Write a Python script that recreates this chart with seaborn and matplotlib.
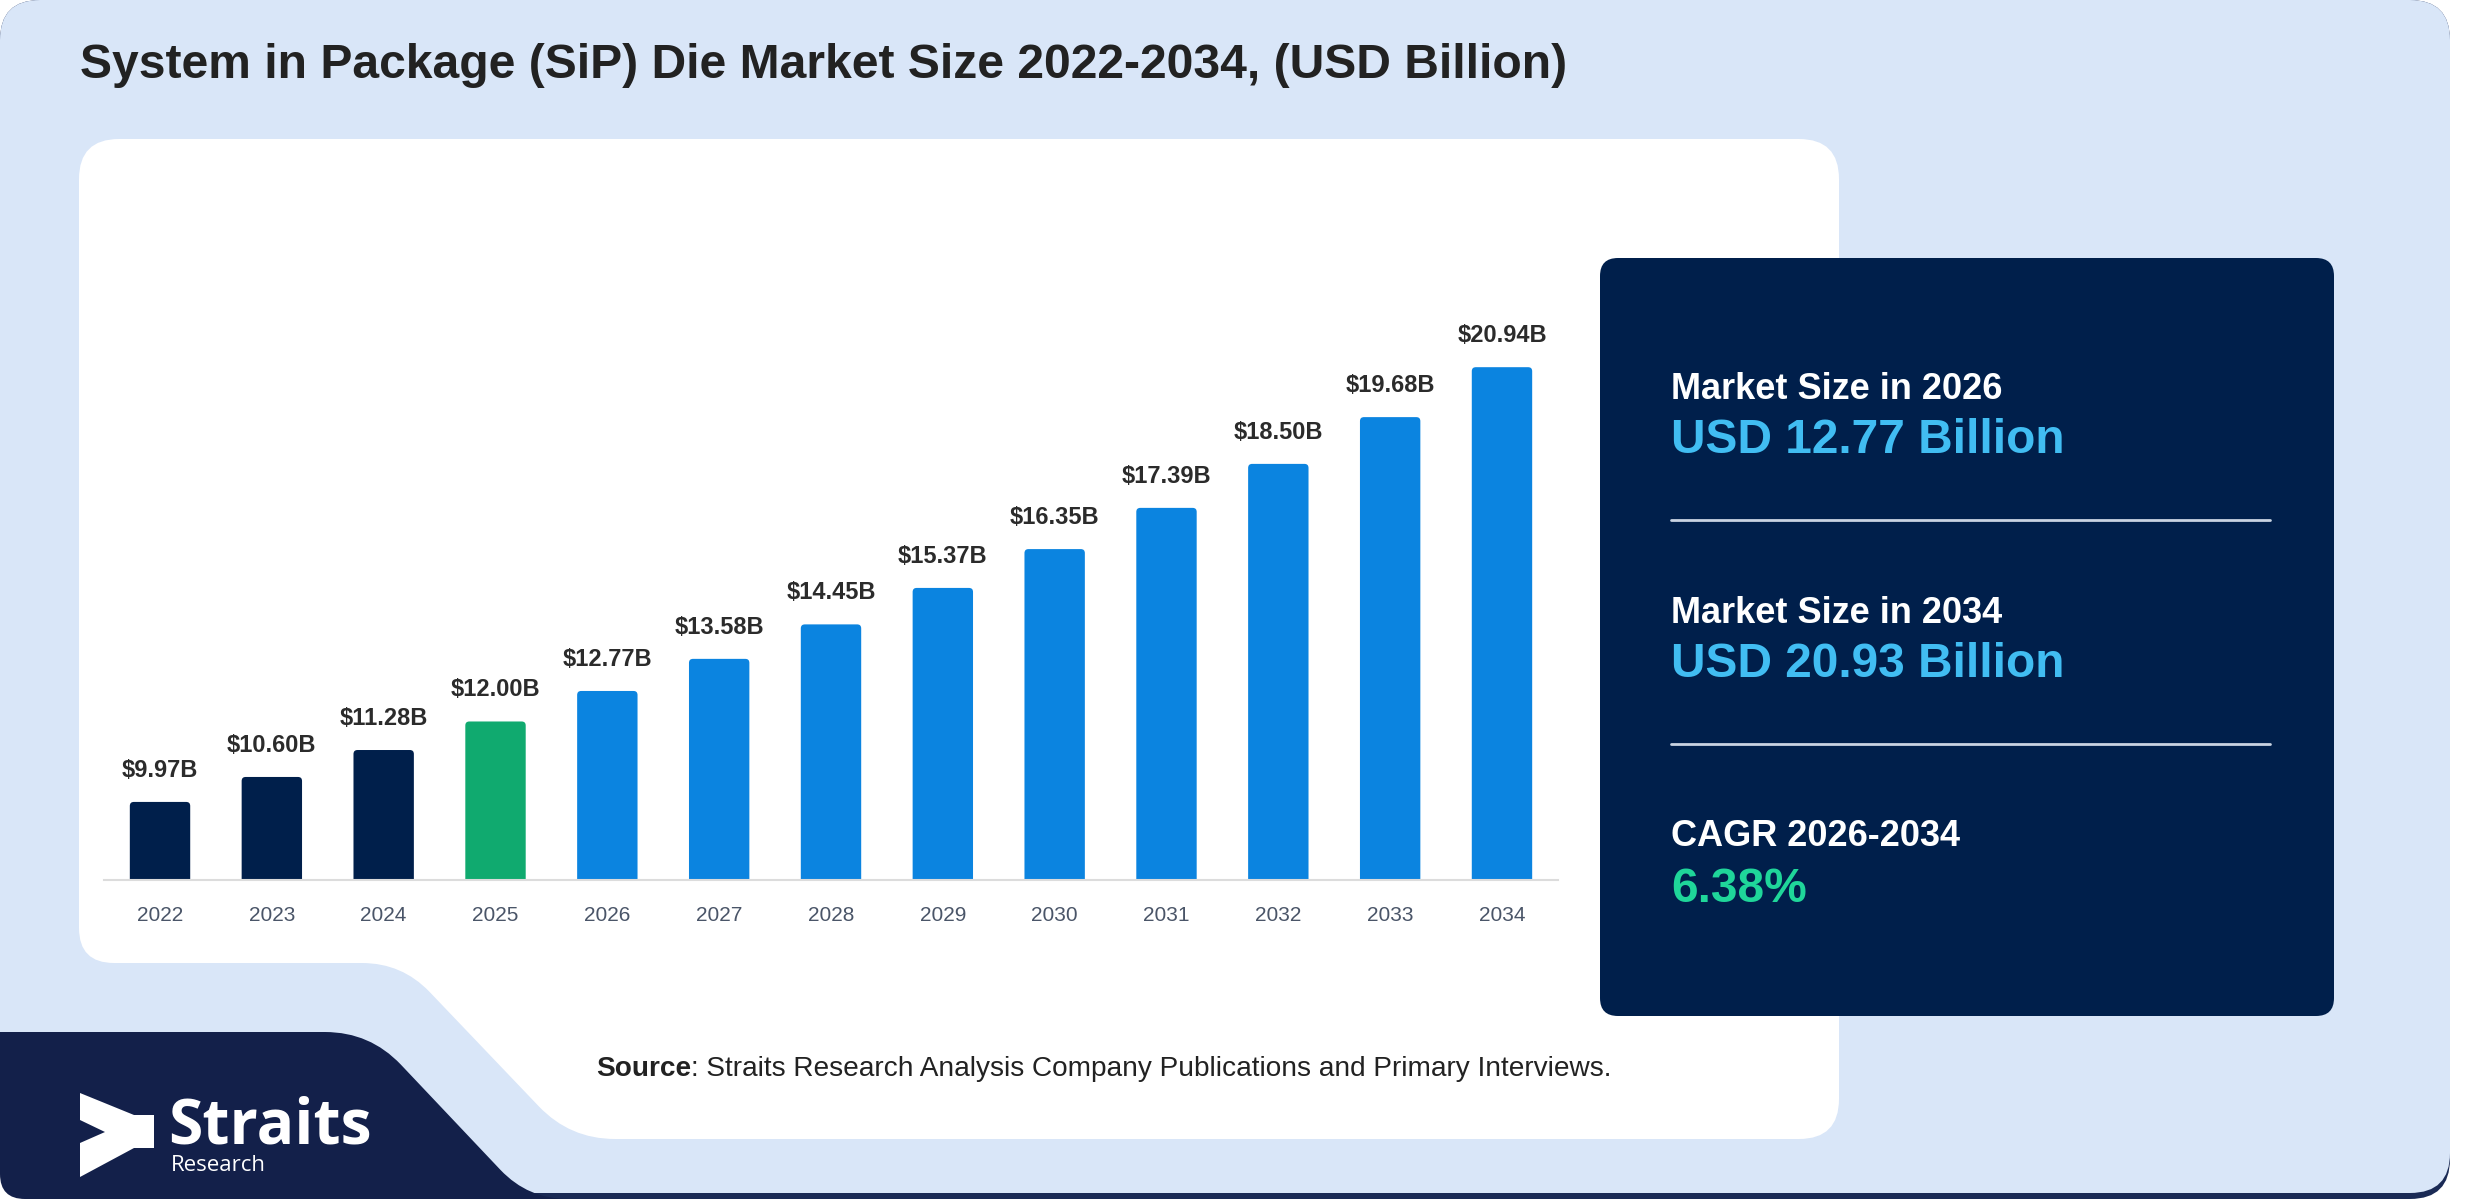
import numpy as np
import pandas as pd
import matplotlib
matplotlib.use("Agg")
import matplotlib.pyplot as plt
from matplotlib.path import Path
from matplotlib.patches import PathPatch, FancyBboxPatch, Polygon
import seaborn as sns

# ---------------- data ----------------
years = ["2022", "2023", "2024", "2025", "2026", "2027", "2028",
         "2029", "2030", "2031", "2032", "2033", "2034"]
values = [9.97, 10.60, 11.28, 12.00, 12.77, 13.58, 14.45,
          15.37, 16.35, 17.39, 18.50, 19.68, 20.94]
segments = ["historical"] * 3 + ["base"] + ["forecast"] * 9

title = "System in Package (SiP) Die Market Size 2022-2034, (USD Billion)"
kpi_labels = ["Market Size in 2026", "Market Size in 2034", "CAGR 2026-2034"]
kpi_values = ["USD 12.77 Billion", "USD 20.93 Billion", "6.38%"]
source_bold = "Source"
source_rest = ": Straits Research Analysis Company Publications and Primary Interviews."

# ---------------- style ----------------
sns.set_style("white")
plt.rcParams["font.family"] = ["Liberation Sans", "DejaVu Sans"]

NAVY = "#001f4b"
GREEN = "#10aa6f"
BLUE = "#0b84e0"
LOGO_NAVY = "#13204a"
CARD_BLUE = "#d9e6f8"
palette = {"historical": NAVY, "base": GREEN, "forecast": BLUE}

W, H = 2480, 1200
fig = plt.figure(figsize=(W / 100, H / 100), dpi=100)
fig.patch.set_facecolor("white")

bg = fig.add_axes([0, 0, 1, 1])
bg.set_xlim(0, W)
bg.set_ylim(H, 0)
bg.axis("off")


def rounded_path(pts, r):
    n = len(pts)
    verts, codes = [], []
    for i in range(n):
        p = np.array(pts[i], float)
        a = np.array(pts[i - 1], float)
        b = np.array(pts[(i + 1) % n], float)
        ri = r[i] if hasattr(r, "__len__") else r
        da = (a - p) / np.linalg.norm(a - p)
        db = (b - p) / np.linalg.norm(b - p)
        p1 = p + da * ri
        p2 = p + db * ri
        verts.append(p1)
        codes.append(Path.MOVETO if i == 0 else Path.LINETO)
        verts += [p, p2]
        codes += [Path.CURVE3, Path.CURVE3]
    verts.append(verts[0])
    codes.append(Path.CLOSEPOLY)
    return Path(verts, codes)


def add_shape(pts, r, color, z):
    bg.add_patch(PathPatch(rounded_path(pts, r), facecolor=color,
                           edgecolor="none", zorder=z))


# navy shadow under outer card
add_shape([(0, 0), (2450, 0), (2450, 1199), (0, 1199)], 40, "#1a2a55", 1)
# outer light-blue card
add_shape([(0, 0), (2450, 0), (2450, 1193), (0, 1193)], 40, CARD_BLUE, 2)
# white chart card with lower-left cut
add_shape([(79, 139), (1839, 139), (1839, 1139), (570, 1139),
           (402, 963), (79, 963)], [40, 40, 40, 45, 40, 35], "white", 3)
# navy logo band
add_shape([(0, 1032), (370, 1032), (528, 1199), (600, 1199), (0, 1199)],
          [0, 45, 40, 0, 25], LOGO_NAVY, 4)
# right KPI panel
add_shape([(1600, 258), (2334, 258), (2334, 1016), (1600, 1016)], 18, NAVY, 5)

# logo arrow
arrow = [(80, 1093), (134, 1115), (154, 1115), (154, 1148), (134, 1148),
         (80, 1177), (80, 1143), (105, 1132), (80, 1120)]
bg.add_patch(Polygon(arrow, closed=True, facecolor="white", edgecolor="none", zorder=6))
bg.text(168, 1143, "Straits", fontsize=45, fontweight="bold", color="white",
        family=["Open Sans", "DejaVu Sans"], va="baseline", ha="left", zorder=6)
bg.text(171, 1171, "Research", fontsize=16, color="white",
        family=["Open Sans", "DejaVu Sans"], va="baseline", ha="left", zorder=6)

# title
bg.text(80, 78, title, fontsize=34.6, fontweight="bold", color="#222222",
        va="baseline", ha="left", zorder=6)

# KPI panel text
label_y = [399, 623, 846]
value_y = [453, 677, 902]
value_colors = ["#41bdf2", "#41bdf2", "#1fd69a"]
for lab, val, ly, vy, vc in zip(kpi_labels, kpi_values, label_y, value_y, value_colors):
    bg.text(1671, ly, lab, fontsize=26, fontweight="bold", color="white",
            va="baseline", ha="left", zorder=6)
    bg.text(1671, vy, val, fontsize=34.5, fontweight="bold", color=vc,
            va="baseline", ha="left", zorder=6)
for sy in [520, 744]:
    bg.plot([1671, 2270], [sy, sy], color="#c9d3e2", lw=2, zorder=6)

# source line
renderer = fig.canvas.get_renderer()
t1 = bg.text(596, 1076, source_bold, fontsize=20.2, fontweight="bold", color="#222222",
             va="baseline", ha="left", zorder=6)
bb = t1.get_window_extent(renderer=renderer)
x_end = bg.transData.inverted().transform((bb.x1, bb.y0))[0]
bg.text(x_end, 1076, source_rest, fontsize=20.2, color="#222222",
        va="baseline", ha="left", zorder=6)

# ---------------- bar chart ----------------
df = pd.DataFrame({"year": years, "value": values, "segment": segments})
ax_w_px, ax_h_px = 1453.8, 15 * 39.63
ax = fig.add_axes([104.1 / W, (H - 880) / H, ax_w_px / W, ax_h_px / H])
ax.set_zorder(10)
ax.patch.set_alpha(0)
sns.barplot(data=df, x="year", y="value", hue="segment", palette=palette,
            dodge=False, width=0.54, saturation=1, legend=False, ax=ax)
ax.set_xlim(-0.5, len(years) - 0.5)
ax.set_ylim(8, 23)

# give the seaborn bars slightly rounded tops
px_per_x = ax_w_px / len(years)
px_per_y = ax_h_px / 15
aspect = px_per_x / px_per_y
for p in list(ax.patches):
    x0, y0, w, h = p.get_x(), p.get_y(), p.get_width(), p.get_height()
    if h == 0:
        continue
    fc = p.get_facecolor()
    p.remove()
    ax.add_patch(FancyBboxPatch((x0, y0), w, h,
                                boxstyle=f"round,pad=0,rounding_size={4 / px_per_x:.4f}",
                                mutation_aspect=aspect, facecolor=fc,
                                edgecolor="none", zorder=2))

for i, v in enumerate(values):
    ax.annotate(f"${v:.2f}B", (i, v), xytext=(0, 18), textcoords="offset points",
                ha="center", va="baseline", fontsize=17, fontweight="bold",
                color="#2b2b2b")
for s in ["top", "right", "left"]:
    ax.spines[s].set_visible(False)
ax.spines["bottom"].set_color("#dcdcdc")
ax.spines["bottom"].set_linewidth(1.5)
ax.spines["bottom"].set_zorder(3)
ax.set_yticks([])
ax.set_xlabel("")
ax.set_ylabel("")
ax.tick_params(axis="x", length=0, pad=19, labelsize=15, labelcolor="#4a5568")

fig.savefig("out.png", dpi=100, facecolor="white")
